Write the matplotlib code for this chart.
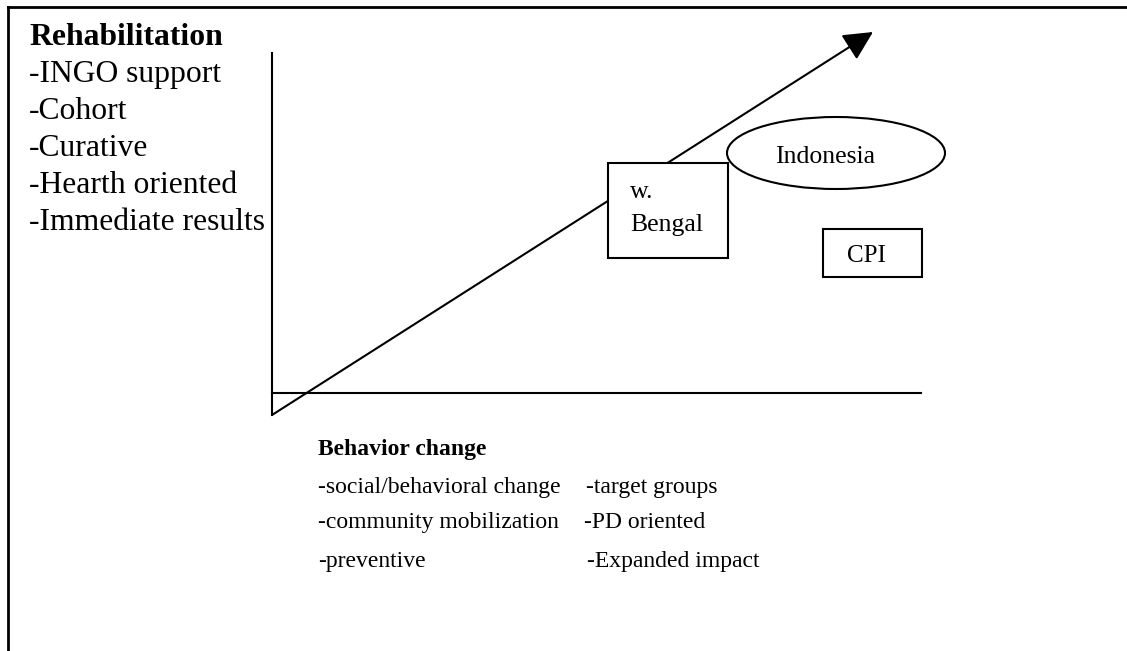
import matplotlib
matplotlib.use("Agg")
import matplotlib.pyplot as plt
from matplotlib.patches import Rectangle, Ellipse, FancyArrowPatch

# Text content of the diagram
Y_TITLE = "Rehabilitation"
Y_ITEMS = ["-INGO support", "-Cohort", "-Curative", "-Hearth oriented", "-Immediate results"]
X_TITLE = "Behavior change"
X_ITEMS_LEFT = ["-social/behavioral change", "-community mobilization", "-preventive"]
X_ITEMS_RIGHT = ["-target groups", "-PD oriented", "-Expanded impact"]
BOX_LABEL = ["w.", "Bengal"]
ELLIPSE_LABEL = "Indonesia"
CPI_LABEL = "CPI"

W, H = 1127, 651
SERIF = ["Liberation Serif", "DejaVu Serif"]

fig = plt.figure(figsize=(W / 100, H / 100), dpi=100)
ax = fig.add_axes([0, 0, 1, 1])
ax.set_xlim(0, W)
ax.set_ylim(H, 0)
ax.axis("off")

lw = 1.5
# outer frame (top + left only)
ax.plot([8, W], [7, 7], color="black", lw=2)
ax.plot([8, 8], [7, H], color="black", lw=2)

# axes of the diagram
ax.plot([272, 272], [53, 415], color="black", lw=lw)
ax.plot([272, 921], [393, 393], color="black", lw=lw)

# diagonal arrow
arr = FancyArrowPatch((272, 415), (873, 32), arrowstyle="-|>,head_length=0.9,head_width=0.45",
                      mutation_scale=20, color="black", lw=lw, shrinkA=0, shrinkB=0, zorder=2)
ax.add_patch(arr)

# left text block (title is cut off by its text frame in the original)
t = ax.text(29, 45, Y_TITLE, fontsize=22.8, fontweight="bold", family=SERIF, va="baseline")
t.set_clip_path(Rectangle((0, 0), 223, H, transform=ax.transData))
for i, s in enumerate(Y_ITEMS):
    ax.text(29, 82 + i * 37, s, fontsize=22.8, family=SERIF, va="baseline")

# bottom text block
ax.text(318, 455, X_TITLE, fontsize=17, fontweight="bold", family=SERIF, va="baseline")
row_y = [493, 528, 567]
right_x = [586, 584, 587]
for i, s in enumerate(X_ITEMS_LEFT):
    ax.text(318, row_y[i], s, fontsize=17, family=SERIF, va="baseline")
for i, s in enumerate(X_ITEMS_RIGHT):
    ax.text(right_x[i], row_y[i], s, fontsize=17, family=SERIF, va="baseline")

# W. Bengal box (covers arrow)
ax.add_patch(Rectangle((608, 163), 120, 95, facecolor="white", edgecolor="black", lw=lw, zorder=3))
ax.text(630, 198, BOX_LABEL[0], fontsize=18.5, family=SERIF, va="baseline", zorder=4)
ax.text(630, 231, BOX_LABEL[1], fontsize=18.5, family=SERIF, va="baseline", zorder=4)

# Indonesia ellipse
ax.add_patch(Ellipse((836, 153), 218, 72, facecolor="white", edgecolor="black", lw=lw, zorder=3))
ax.text(775, 163, ELLIPSE_LABEL, fontsize=18.5, family=SERIF, va="baseline", zorder=4)

# CPI box
ax.add_patch(Rectangle((823, 229), 99, 48, facecolor="white", edgecolor="black", lw=lw, zorder=3))
ax.text(847, 262, CPI_LABEL, fontsize=18, family=SERIF, va="baseline", zorder=4)

fig.savefig("out.png", dpi=100)
